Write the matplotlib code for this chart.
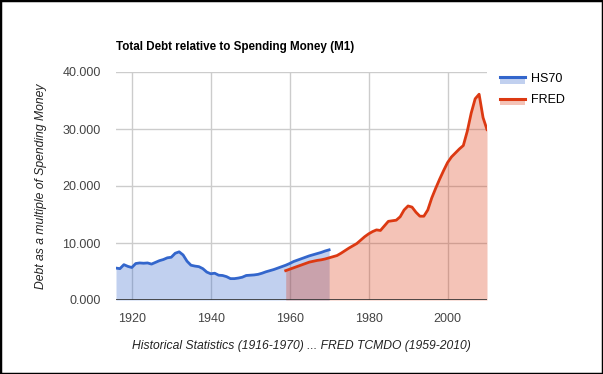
import numpy as np
import matplotlib.pyplot as plt
from matplotlib.lines import Line2D
from matplotlib.patches import Rectangle

plt.rcParams['font.family'] = ['Liberation Sans', 'DejaVu Sans']

# HS70 series (Historical Statistics, 1916-1970)
hs70_years = np.arange(1916, 1971)
hs70_values = [5.6, 5.5, 6.2, 5.9, 5.7, 6.4, 6.5, 6.45, 6.5, 6.3,
               6.6, 6.9, 7.1, 7.4, 7.5, 8.2, 8.45, 7.9, 6.8, 6.1,
               5.95, 5.85, 5.5, 4.9, 4.6, 4.7, 4.35, 4.3, 4.1, 3.75,
               3.75, 3.85, 4.0, 4.3, 4.35, 4.4, 4.5, 4.7, 4.95, 5.15,
               5.35, 5.6, 5.85, 6.1, 6.4, 6.75, 7.0, 7.25, 7.5, 7.75,
               7.95, 8.15, 8.35, 8.6, 8.8]

# FRED TCMDO series (1959-2010)
fred_years = np.arange(1959, 2011)
fred_values = [5.15, 5.4, 5.65, 5.9, 6.15, 6.4, 6.65, 6.8, 6.95, 7.05,
               7.2, 7.4, 7.6, 7.8, 8.2, 8.65, 9.1, 9.5, 9.9, 10.5,
               11.1, 11.6, 12.0, 12.3, 12.2, 13.0, 13.8, 13.9, 14.0, 14.6,
               15.8, 16.5, 16.3, 15.4, 14.7, 14.7, 15.8, 17.9, 19.6, 21.2,
               22.7, 24.1, 25.1, 25.8, 26.5, 27.1, 29.6, 32.8, 35.3, 36.1,
               32.0, 29.9]

x_ticks = [1920, 1940, 1960, 1980, 2000]
y_ticks = [0, 10, 20, 30, 40]

blue = '#3366cc'
red = '#dc3912'


# legend key: line on top, light area block beneath it
class AreaKey:
    def __init__(self, color):
        self.color = color

    def legend_artist(self, legend, orig, fontsize, box):
        x0, y0 = box.xdescent, box.ydescent
        w, h = box.width, box.height
        ymid = y0 + h * 0.55
        rect = Rectangle((x0, ymid - h * 0.75), w, h * 0.75, color=orig.color,
                         alpha=0.3, lw=0, transform=box.get_transform())
        line = Line2D([x0, x0 + w], [ymid, ymid], color=orig.color, lw=2.2,
                      transform=box.get_transform())
        box.add_artist(rect)
        box.add_artist(line)
        return line


fig = plt.figure(figsize=(6.03, 3.74), dpi=100)
ax = fig.add_axes([116/603, 1 - 300/374, (487 - 116)/603, (300 - 72)/374])

ax.fill_between(hs70_years, hs70_values, color=blue, alpha=0.3, lw=0, zorder=2)
ax.plot(hs70_years, hs70_values, color=blue, lw=2, zorder=4)
ax.fill_between(fred_years, fred_values, color=red, alpha=0.3, lw=0, zorder=2)
ax.plot(fred_years, fred_values, color=red, lw=2, zorder=4)

ax.set_xlim(1916, 2010)
ax.set_ylim(0, 40)
ax.set_xticks(x_ticks)
ax.set_yticks(y_ticks)
ax.set_yticklabels(['%.3f' % v for v in y_ticks])
ax.grid(True, color='#cccccc', lw=1, zorder=1)
ax.set_axisbelow(True)
ax.axhline(0, color='#333333', lw=1.2, zorder=5)
for s in ax.spines.values():
    s.set_visible(False)
ax.tick_params(length=0, labelsize=9, colors='#444444')
ax.tick_params(axis='y', pad=11)
ax.tick_params(axis='x', pad=9)

ax.set_title('Total Debt relative to Spending Money (M1)', loc='left',
             fontsize=8.4, fontweight='bold', color='black', pad=16)
ax.set_xlabel('Historical Statistics (1916-1970) ... FRED TCMDO (1959-2010)',
              fontsize=8.7, style='italic', color='#222222', labelpad=11)
ax.set_ylabel('Debt as a multiple of Spending Money',
              fontsize=8.7, style='italic', color='#222222', labelpad=11)

keys = [AreaKey(blue), AreaKey(red)]
ax.legend(keys, ['HS70', 'FRED'], loc='upper left', bbox_to_anchor=(1.005, 1.045),
          frameon=False, fontsize=9, handlelength=2.0, handletextpad=0.45,
          labelspacing=0.75, handler_map={AreaKey: keys[0]})

fig.patches.append(Rectangle((0, 0), 1, 1, transform=fig.transFigure,
                             fill=False, ec='black', lw=2.5))

fig.savefig('out.png', dpi=100)
